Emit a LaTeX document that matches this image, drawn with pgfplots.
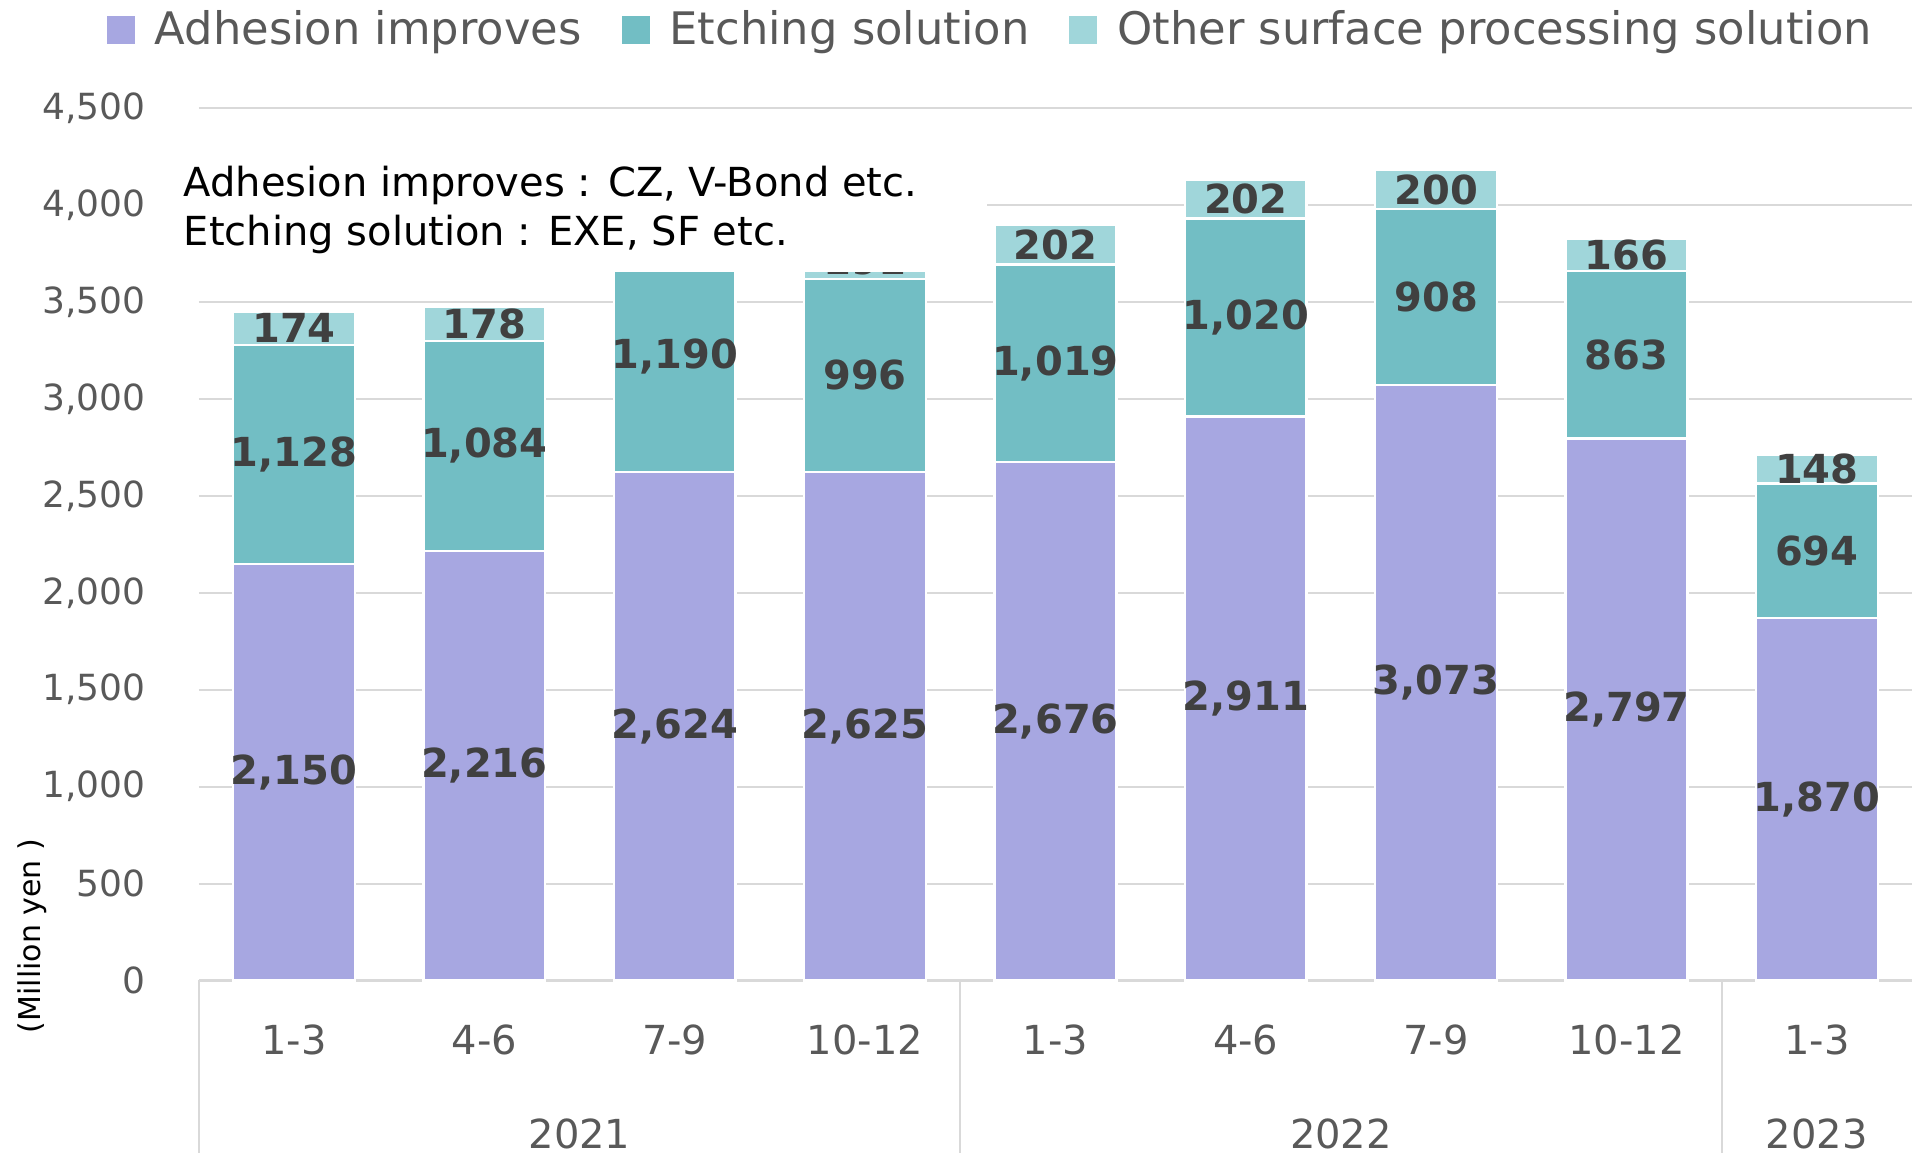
\documentclass[border=0pt]{standalone}
\usepackage{fontspec}
\setmainfont{DejaVu Sans}
\usepackage{pgfplots}
\usepackage{pgfplotstable}
\pgfplotsset{compat=1.18}

\definecolor{adhcol}{RGB}{167,167,225}
\definecolor{etchcol}{RGB}{114,190,196}
\definecolor{othcol}{RGB}{160,214,218}
\definecolor{gridcol}{RGB}{217,217,217}
\definecolor{tickcol}{RGB}{89,89,89}
\definecolor{valcol}{RGB}{64,64,64}

% quarterly sales (million yen): adhesion improves, etching solution, other
\pgfplotstableread{
x a    e    o
0 2150 1128 174
1 2216 1084 178
2 2624 1190 185
3 2625 996  191
4 2676 1019 202
5 2911 1020 202
6 3073 908  200
7 2797 863  166
8 1870 694  148
}\sales

\pgfplotsset{
  panel/.style={
    at={(49.7pt,43.15pt)}, anchor=south west,
    scale only axis, width=428.3pt, height=218pt,
    xmin=-0.5, xmax=8.5, ymin=0, ymax=4500,
    clip=false,
  },
}

\begin{document}
\begin{tikzpicture}
\path[use as bounding box] (0,0) rectangle (478pt,288.25pt);

\begin{axis}[panel,
  ybar stacked, bar width=0.64,
  axis lines*=left,
  y axis line style={draw=none},
  x axis line style={draw=gridcol, line width=0.6pt},
  ymajorgrids, grid style={draw=gridcol, line width=0.5pt},
  major tick length=0pt,
  ytick={0,500,...,4500},
  yticklabel style={anchor=east, inner sep=0pt, xshift=-13.2pt,
    font=\fontsize{9}{11}\selectfont, text=tickcol},
  /pgf/number format/1000 sep={,},
  /pgf/number format/assume math mode=true,
  xtick={0,...,8},
  xticklabels={1-3,4-6,7-9,10-12,1-3,4-6,7-9,10-12,1-3},
  xticklabel style={anchor=center, inner sep=0pt, yshift=-15pt,
    font=\fontsize{10}{12}\selectfont, text=tickcol},
  extra x ticks={-0.5,3.5,7.5},
  extra x tick labels={},
  extra x tick style={major tick length=43.2pt, tick align=outside,
    tick style={draw=gridcol, line width=0.5pt}},
  legend columns=3,
  legend image code/.code={\path[#1,draw=none] (0pt,-3.5pt) rectangle (7pt,3.5pt);},
  legend style={at={(axis description cs:-0.0542,1.0894)}, anchor=west,
    draw=none, fill=none, inner sep=0pt,
    font=\fontsize{11.2}{13}\selectfont, text=tickcol,
    /tikz/every odd column/.append style={column sep=3pt},
    /tikz/every even column/.append style={column sep=8pt}},
]
\addplot[fill=adhcol, draw=white, line width=0.6pt] table[x=x, y=a] {\sales};
\addplot[fill=etchcol, draw=white, line width=0.6pt] table[x=x, y=e] {\sales};
\addplot[fill=othcol, draw=white, line width=0.6pt] table[x=x, y=o] {\sales};
\legend{Adhesion improves, Etching solution, Other surface processing solution}

\node[font=\fontsize{10}{12}\selectfont, text=tickcol] at (axis cs:1.5,0) [yshift=-38.4pt] {2021};
\node[font=\fontsize{10}{12}\selectfont, text=tickcol] at (axis cs:5.5,0) [yshift=-38.4pt] {2022};
\node[font=\fontsize{10}{12}\selectfont, text=tickcol] at (axis cs:8,0) [yshift=-38.4pt] {2023};
\end{axis}

% value labels, centred in each segment
\begin{axis}[panel, hide axis,
  nodes near coords, point meta=explicit,
  nodes near coords style={anchor=center, inner sep=0pt,
    font=\bfseries\fontsize{10}{12}\selectfont, text=valcol},
  /pgf/number format/1000 sep={,},
  /pgf/number format/assume math mode=true,
]
\addplot[draw=none, mark=none] table[x=x, y expr=\thisrow{a}/2, meta=a] {\sales};
\addplot[draw=none, mark=none] table[x=x, y expr=\thisrow{a}+\thisrow{e}/2, meta=e] {\sales};
% the 7-9/2021 top segment sits under the product note, so it carries no label
\addplot[draw=none, mark=none, skip coords between index={2}{3}]
  table[x=x, y expr=\thisrow{a}+\thisrow{e}+\thisrow{o}/2, meta=o] {\sales};
\end{axis}

% product note
\fill[white] (43.75pt,220.25pt) rectangle (246.75pt,258.25pt);
\node[anchor=base west, inner sep=0pt, font=\fontsize{10}{12}\selectfont]
  at (45.75pt,239pt) {Adhesion improves : CZ, V-Bond etc.};
\node[anchor=base west, inner sep=0pt, font=\fontsize{10}{12}\selectfont]
  at (45.75pt,226.75pt) {Etching solution : EXE, SF etc.};

% unit label
\node[rotate=90, inner sep=0pt, font=\fontsize{7.5}{9}\selectfont] at (8pt,54.25pt) {(Million yen )};
\end{tikzpicture}
\end{document}
